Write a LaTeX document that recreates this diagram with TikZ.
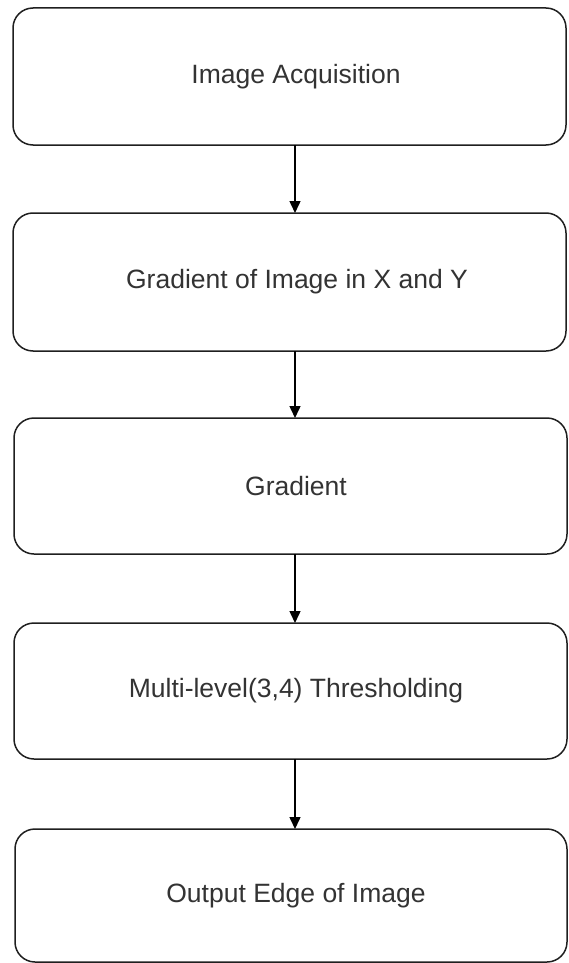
\documentclass[tikz,border=0pt]{standalone}
\usepackage{fontspec}
\setmainfont{Liberation Sans}
\usetikzlibrary{arrows.meta}
\begin{document}
\begin{tikzpicture}[x=1pt,y=-1pt,
  stepbox/.style={draw=black!88,line width=1.5pt,rounded corners=20pt,fill=white},
  lbl/.style={text=black!80,font=\fontsize{26.5}{30}\selectfont},
  conn/.style={draw=black,line width=1.5pt,-{Triangle[length=12pt,width=11pt]}}]
\useasboundingbox (0,0) rectangle (569,963);
\draw[stepbox] (13,8) rectangle (566,145);
\node[lbl] (a) at (296,76.5) {Image Acquisition};
\draw[stepbox] (13,213) rectangle (566,351);
\node[lbl] (b) at (297,282) {Gradient of Image in X and Y};
\draw[stepbox] (14,418) rectangle (567,554);
\node[lbl] (c) at (296,486) {Gradient};
\draw[stepbox] (14,623) rectangle (567,759);
\node[lbl] (d) at (296,691) {Multi-level(3,4) Thresholding};
\draw[stepbox] (15,829) rectangle (567,962);
\node[lbl] (e) at (296,896) {Output Edge of Image};
\coordinate (a1) at (295,145); \coordinate (b0) at (295,213);
\coordinate (b1) at (295,351); \coordinate (c0) at (295,418);
\coordinate (c1) at (295,554); \coordinate (d0) at (295,623);
\coordinate (d1) at (295,759); \coordinate (e0) at (295,829);
\draw[conn] (a1) -- (b0);
\draw[conn] (b1) -- (c0);
\draw[conn] (c1) -- (d0);
\draw[conn] (d1) -- (e0);
\end{tikzpicture}
\end{document}
